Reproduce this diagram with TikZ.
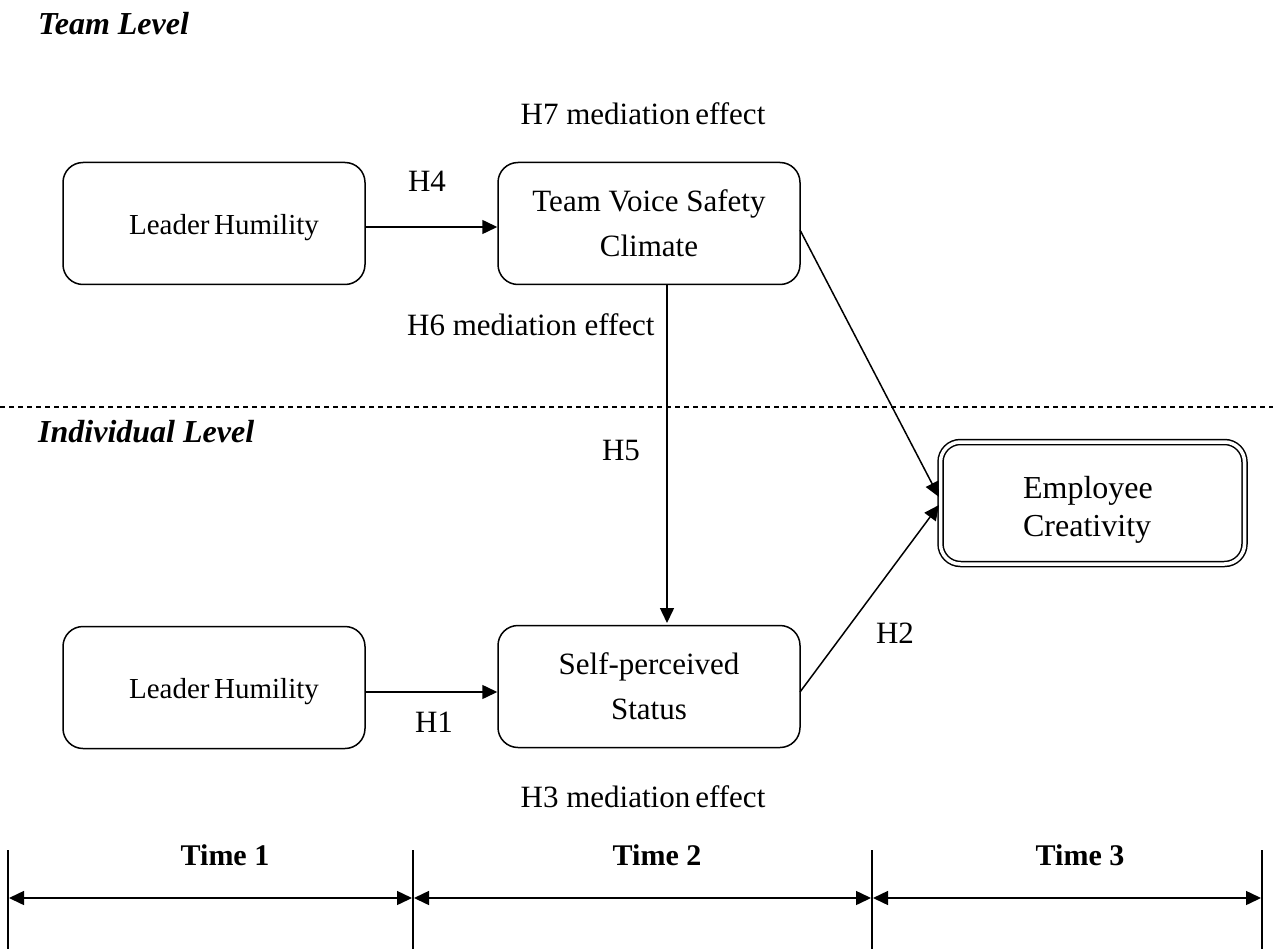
\documentclass[tikz,border=0pt]{standalone}
\usepackage{fontspec}
\setmainfont{Liberation Serif}
\usetikzlibrary{arrows.meta}
\begin{document}
\begin{tikzpicture}[x=1pt,y=-1pt,
  box/.style={draw,line width=1.5pt,rounded corners=20pt,minimum width=302pt,minimum height=122pt,align=center,font=\fontsize{31}{45}\selectfont},
  lbl/.style={font=\fontsize{31}{36}\selectfont,inner sep=0pt},
  lvl/.style={font=\fontsize{32}{36}\selectfont\bfseries\itshape,inner sep=0pt,anchor=west},
  tlbl/.style={font=\fontsize{30}{36}\selectfont\bfseries,inner sep=0pt},
  arr/.style={line width=1.5pt,-{Triangle[length=15pt,width=14pt]}},
  tarr/.style={line width=1.5pt,{Triangle[length=15pt,width=14pt]}-{Triangle[length=15pt,width=14pt]}},
]
\useasboundingbox (0,0) rectangle (1273,949);
\node[lvl] (team) at (38,24) {Team Level};
\node[lbl] (h7) at (643,114) {H7 mediation\hspace{5pt}effect};
\node[box] (lh1) at (214,223.5) {};
\node[font=\fontsize{29}{45}\selectfont,inner sep=0pt] (lh1t) at (224,228) {Leader\hspace{4.5pt}Humility};
\node[box] (tv) at (649,223.5) {Team Voice Safety\\Climate};
\node[box] (lh2) at (214,687.5) {};
\node[font=\fontsize{29}{45}\selectfont,inner sep=0pt] (lh2t) at (224,692) {Leader\hspace{4.5pt}Humility};
\node[box] (sp) at (649,686.5) {Self-perceived\\Status};
\node[draw,line width=1.5pt,double,double distance=3.5pt,rounded corners=20pt,minimum width=304pt,minimum height=122pt] (ec) at (1092.5,503) {};
\node[align=left,font=\fontsize{32}{38}\selectfont,inner sep=0pt] (ect) at (1088,510) {Employee\\Creativity};
\draw[arr] (lh1.east |- 0,227) -- (tv.west |- 0,227);
\node[lbl] (h4) at (427,181) {H4};
\node[lbl,anchor=west] (h6) at (407,325) {H6 mediation effect};
\coordinate (vtop) at (667,285);
\coordinate (vbot) at (667,623);
\draw[arr] (vtop) -- (vbot);
\node[lbl] (h5) at (621,450) {H5};
\draw[line width=1.2pt,dashed,dash pattern=on 5pt off 4pt] (0,407) -- (1273,407);
\node[lvl] (ind) at (38,432) {Individual Level};
\coordinate (tvout) at (800,230);
\coordinate (ecin1) at (939,497);
\draw[arr] (tvout) -- (ecin1);
\coordinate (spout) at (800,692);
\coordinate (ecin2) at (939,505);
\draw[arr] (spout) -- (ecin2);
\node[lbl] (h2) at (895,633) {H2};
\draw[arr] (lh2.east |- 0,692) -- (sp.west |- 0,692);
\node[lbl] (h1) at (434,722) {H1};
\node[lbl] (h3) at (643,797) {H3 mediation\hspace{5pt}effect};
\coordinate (t0a) at (8,850); \coordinate (t0b) at (8,949);
\coordinate (t1a) at (413,850); \coordinate (t1b) at (413,949);
\coordinate (t2a) at (872,850); \coordinate (t2b) at (872,949);
\coordinate (t3a) at (1262,850); \coordinate (t3b) at (1262,949);
\foreach \a/\b in {t0a/t0b,t1a/t1b,t2a/t2b,t3a/t3b} \draw[line width=1.4pt] (\a) -- (\b);
\draw[tarr] (9,898) -- (412,898);
\draw[tarr] (414,898) -- (871,898);
\draw[tarr] (873,898) -- (1261,898);
\node[tlbl] (time1) at (225,855) {Time 1};
\node[tlbl] (time2) at (657,855) {Time 2};
\node[tlbl] (time3) at (1080,855) {Time 3};
\end{tikzpicture}
\end{document}
